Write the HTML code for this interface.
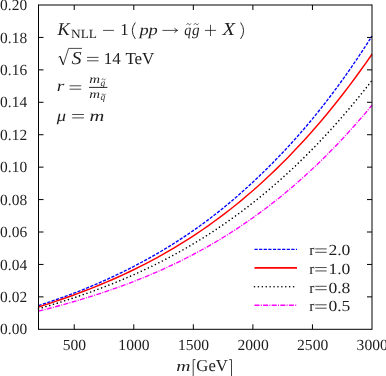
<!DOCTYPE html>
<html><head><meta charset="utf-8"><title>plot</title>
<style>
html,body{margin:0;padding:0;background:#fff;}
body{width:386px;height:376px;overflow:hidden;}
svg{display:block;}
text{font-family:"Liberation Serif",serif;fill:#1e1e1e;text-rendering:geometricPrecision;}
.i{font-style:italic;}
</style></head><body>
<svg width="386" height="376" viewBox="0 0 386 376">
<rect x="0" y="0" width="386" height="376" fill="#ffffff"/>
<path d="M38.50,305.60 L44.15,303.76 L49.81,301.86 L55.46,299.91 L61.11,297.91 L66.76,295.85 L72.42,293.73 L78.07,291.55 L83.72,289.31 L89.37,287.00 L95.03,284.63 L100.68,282.19 L106.33,279.68 L111.98,277.09 L117.64,274.44 L123.29,271.70 L128.94,268.89 L134.59,266.00 L140.25,263.02 L145.90,259.96 L151.55,256.81 L157.20,253.57 L162.86,250.24 L168.51,246.81 L174.16,243.29 L179.81,239.66 L185.47,235.93 L191.12,232.09 L196.77,228.14 L202.42,224.07 L208.08,219.88 L213.73,215.57 L219.38,211.13 L225.03,206.56 L230.69,201.85 L236.34,197.02 L241.99,192.05 L247.64,186.96 L253.30,181.73 L258.95,176.39 L264.60,170.92 L270.25,165.32 L275.91,159.59 L281.56,153.72 L287.21,147.71 L292.86,141.55 L298.52,135.22 L304.17,128.72 L309.82,122.05 L315.47,115.19 L321.13,108.15 L326.78,100.92 L332.43,93.50 L338.08,85.89 L343.74,78.08 L349.39,70.07 L355.04,61.86 L360.69,53.45 L366.35,44.83 L372.00,36.00" fill="none" stroke="#0000ff" stroke-width="1.35" stroke-dasharray="3.2,1.4"/>
<path d="M38.50,306.96 L44.15,305.16 L49.81,303.32 L55.46,301.43 L61.11,299.50 L66.76,297.52 L72.42,295.50 L78.07,293.42 L83.72,291.29 L89.37,289.10 L95.03,286.85 L100.68,284.54 L106.33,282.17 L111.98,279.73 L117.64,277.22 L123.29,274.65 L128.94,271.99 L134.59,269.27 L140.25,266.46 L145.90,263.57 L151.55,260.60 L157.20,257.55 L162.86,254.40 L168.51,251.17 L174.16,247.85 L179.81,244.42 L185.47,240.91 L191.12,237.29 L196.77,233.57 L202.42,229.74 L208.08,225.81 L213.73,221.76 L219.38,217.61 L225.03,213.34 L230.69,208.95 L236.34,204.45 L241.99,199.82 L247.64,195.07 L253.30,190.19 L258.95,185.19 L264.60,180.05 L270.25,174.78 L275.91,169.37 L281.56,163.83 L287.21,158.14 L292.86,152.31 L298.52,146.33 L304.17,140.21 L309.82,133.93 L315.47,127.51 L321.13,120.92 L326.78,114.18 L332.43,107.28 L338.08,100.22 L343.74,92.99 L349.39,85.59 L355.04,78.03 L360.69,70.29 L366.35,62.37 L372.00,54.28" fill="none" stroke="#ff0000" stroke-width="1.45"/>
<path d="M38.50,308.75 L44.15,307.10 L49.81,305.42 L55.46,303.70 L61.11,301.94 L66.76,300.13 L72.42,298.28 L78.07,296.38 L83.72,294.43 L89.37,292.43 L95.03,290.37 L100.68,288.26 L106.33,286.09 L111.98,283.86 L117.64,281.56 L123.29,279.21 L128.94,276.78 L134.59,274.29 L140.25,271.73 L145.90,269.09 L151.55,266.38 L157.20,263.60 L162.86,260.73 L168.51,257.78 L174.16,254.75 L179.81,251.64 L185.47,248.44 L191.12,245.15 L196.77,241.76 L202.42,238.29 L208.08,234.72 L213.73,231.05 L219.38,227.28 L225.03,223.41 L230.69,219.44 L236.34,215.36 L241.99,211.17 L247.64,206.87 L253.30,202.47 L258.95,197.94 L264.60,193.30 L270.25,188.55 L275.91,183.67 L281.56,178.67 L287.21,173.55 L292.86,168.30 L298.52,162.92 L304.17,157.41 L309.82,151.77 L315.47,145.99 L321.13,140.08 L326.78,134.03 L332.43,127.84 L338.08,121.50 L343.74,115.02 L349.39,108.39 L355.04,101.62 L360.69,94.69 L366.35,87.61 L372.00,80.37" fill="none" stroke="#000000" stroke-width="1.6" stroke-linecap="round" stroke-dasharray="0.01,3.9"/>
<path d="M38.50,311.21 L44.15,309.75 L49.81,308.27 L55.46,306.75 L61.11,305.20 L66.76,303.62 L72.42,302.00 L78.07,300.34 L83.72,298.64 L89.37,296.90 L95.03,295.11 L100.68,293.28 L106.33,291.39 L111.98,289.45 L117.64,287.46 L123.29,285.41 L128.94,283.30 L134.59,281.13 L140.25,278.90 L145.90,276.60 L151.55,274.23 L157.20,271.80 L162.86,269.29 L168.51,266.70 L174.16,264.04 L179.81,261.30 L185.47,258.48 L191.12,255.58 L196.77,252.59 L202.42,249.51 L208.08,246.34 L213.73,243.08 L219.38,239.72 L225.03,236.27 L230.69,232.72 L236.34,229.07 L241.99,225.31 L247.64,221.45 L253.30,217.48 L258.95,213.40 L264.60,209.20 L270.25,204.89 L275.91,200.47 L281.56,195.93 L287.21,191.26 L292.86,186.47 L298.52,181.56 L304.17,176.51 L309.82,171.34 L315.47,166.03 L321.13,160.59 L326.78,155.01 L332.43,149.30 L338.08,143.44 L343.74,137.44 L349.39,131.29 L355.04,124.99 L360.69,118.54 L366.35,111.94 L372.00,105.19" fill="none" stroke="#ff00ff" stroke-width="1.35" stroke-dasharray="5,1.3,1,1.3"/>
<g stroke="#000" stroke-width="1" fill="none">
<line x1="38.5" y1="4.5" x2="38.5" y2="329.8"/>
<line x1="372.0" y1="4.5" x2="372.0" y2="329.8"/>
<line x1="38.5" y1="5.0" x2="372.0" y2="5.0"/>
<line x1="38.5" y1="329.3" x2="372.0" y2="329.3"/>
<line x1="38.5" y1="296.87" x2="43.5" y2="296.87"/>
<line x1="372.0" y1="296.87" x2="367.0" y2="296.87"/>
<line x1="38.5" y1="264.44" x2="43.5" y2="264.44"/>
<line x1="372.0" y1="264.44" x2="367.0" y2="264.44"/>
<line x1="38.5" y1="232.01" x2="43.5" y2="232.01"/>
<line x1="372.0" y1="232.01" x2="367.0" y2="232.01"/>
<line x1="38.5" y1="199.58" x2="43.5" y2="199.58"/>
<line x1="372.0" y1="199.58" x2="367.0" y2="199.58"/>
<line x1="38.5" y1="167.15" x2="43.5" y2="167.15"/>
<line x1="372.0" y1="167.15" x2="367.0" y2="167.15"/>
<line x1="38.5" y1="134.72" x2="43.5" y2="134.72"/>
<line x1="372.0" y1="134.72" x2="367.0" y2="134.72"/>
<line x1="38.5" y1="102.29" x2="43.5" y2="102.29"/>
<line x1="372.0" y1="102.29" x2="367.0" y2="102.29"/>
<line x1="38.5" y1="69.86" x2="43.5" y2="69.86"/>
<line x1="372.0" y1="69.86" x2="367.0" y2="69.86"/>
<line x1="38.5" y1="37.43" x2="43.5" y2="37.43"/>
<line x1="372.0" y1="37.43" x2="367.0" y2="37.43"/>
<line x1="74.23" y1="329.3" x2="74.23" y2="324.3"/>
<line x1="74.23" y1="5.0" x2="74.23" y2="10.0"/>
<line x1="133.79" y1="329.3" x2="133.79" y2="324.3"/>
<line x1="133.79" y1="5.0" x2="133.79" y2="10.0"/>
<line x1="193.34" y1="329.3" x2="193.34" y2="324.3"/>
<line x1="193.34" y1="5.0" x2="193.34" y2="10.0"/>
<line x1="252.89" y1="329.3" x2="252.89" y2="324.3"/>
<line x1="252.89" y1="5.0" x2="252.89" y2="10.0"/>
<line x1="312.45" y1="329.3" x2="312.45" y2="324.3"/>
<line x1="312.45" y1="5.0" x2="312.45" y2="10.0"/>
</g>
<line x1="254.5" y1="249.3" x2="297" y2="249.3" fill="none" stroke="#0000ff" stroke-width="1.35" stroke-dasharray="3.2,1.4"/>
<line x1="254.5" y1="267.95" x2="297" y2="267.95" fill="none" stroke="#ff0000" stroke-width="1.7"/>
<line x1="254.5" y1="286.7" x2="297" y2="286.7" fill="none" stroke="#000000" stroke-width="1.6" stroke-linecap="round" stroke-dasharray="0.01,3.9"/>
<line x1="254.5" y1="305.2" x2="297" y2="305.2" fill="none" stroke="#ff00ff" stroke-width="1.35" stroke-dasharray="5,1.3,1,1.3"/>
<g style="filter:grayscale(1)">
<text x="27.1" y="334.40" font-size="15.4" text-anchor="end" textLength="27" lengthAdjust="spacingAndGlyphs">0.00</text>
<text x="27.1" y="301.97" font-size="15.4" text-anchor="end" textLength="27" lengthAdjust="spacingAndGlyphs">0.02</text>
<text x="27.1" y="269.54" font-size="15.4" text-anchor="end" textLength="27" lengthAdjust="spacingAndGlyphs">0.04</text>
<text x="27.1" y="237.11" font-size="15.4" text-anchor="end" textLength="27" lengthAdjust="spacingAndGlyphs">0.06</text>
<text x="27.1" y="204.68" font-size="15.4" text-anchor="end" textLength="27" lengthAdjust="spacingAndGlyphs">0.08</text>
<text x="27.1" y="172.25" font-size="15.4" text-anchor="end" textLength="27" lengthAdjust="spacingAndGlyphs">0.10</text>
<text x="27.1" y="139.82" font-size="15.4" text-anchor="end" textLength="27" lengthAdjust="spacingAndGlyphs">0.12</text>
<text x="27.1" y="107.39" font-size="15.4" text-anchor="end" textLength="27" lengthAdjust="spacingAndGlyphs">0.14</text>
<text x="27.1" y="74.96" font-size="15.4" text-anchor="end" textLength="27" lengthAdjust="spacingAndGlyphs">0.16</text>
<text x="27.1" y="42.53" font-size="15.4" text-anchor="end" textLength="27" lengthAdjust="spacingAndGlyphs">0.18</text>
<text x="27.1" y="10.10" font-size="15.4" text-anchor="end" textLength="27" lengthAdjust="spacingAndGlyphs">0.20</text>
<text x="74.43" y="350.3" font-size="15.4" text-anchor="middle" textLength="23.4" lengthAdjust="spacingAndGlyphs">500</text>
<text x="133.99" y="350.3" font-size="15.4" text-anchor="middle" textLength="31.2" lengthAdjust="spacingAndGlyphs">1000</text>
<text x="193.54" y="350.3" font-size="15.4" text-anchor="middle" textLength="31.2" lengthAdjust="spacingAndGlyphs">1500</text>
<text x="253.09" y="350.3" font-size="15.4" text-anchor="middle" textLength="31.2" lengthAdjust="spacingAndGlyphs">2000</text>
<text x="312.65" y="350.3" font-size="15.4" text-anchor="middle" textLength="31.2" lengthAdjust="spacingAndGlyphs">2500</text>
<text x="372.20" y="350.3" font-size="15.4" text-anchor="middle" textLength="31.2" lengthAdjust="spacingAndGlyphs">3000</text>
<text x="176.2" y="371.4" font-size="15.0" class="i" textLength="14.2" lengthAdjust="spacingAndGlyphs">m</text>
<path d="M195.5,359.6 L193.2,359.6 L193.2,376.5" fill="none" stroke="#111" stroke-width="0.8"/>
<path d="M229.2,359.6 L231.5,359.6 L231.5,376.5" fill="none" stroke="#111" stroke-width="0.8"/>
<text x="196.3" y="371.4" font-size="16.8" textLength="31.6" lengthAdjust="spacingAndGlyphs">GeV</text>
<text x="309.3" y="255.20" font-size="15.4">r</text>
<line x1="315.3" y1="248.90" x2="326.7" y2="248.90" stroke="#111" stroke-width="0.75"/>
<line x1="315.3" y1="252.30" x2="326.7" y2="252.30" stroke="#111" stroke-width="0.75"/>
<text x="328.4" y="255.20" font-size="15.4" textLength="22" lengthAdjust="spacingAndGlyphs">2.0</text>
<text x="309.3" y="273.85" font-size="15.4">r</text>
<line x1="315.3" y1="267.55" x2="326.7" y2="267.55" stroke="#111" stroke-width="0.75"/>
<line x1="315.3" y1="270.95" x2="326.7" y2="270.95" stroke="#111" stroke-width="0.75"/>
<text x="328.4" y="273.85" font-size="15.4" textLength="22" lengthAdjust="spacingAndGlyphs">1.0</text>
<text x="309.3" y="292.60" font-size="15.4">r</text>
<line x1="315.3" y1="286.30" x2="326.7" y2="286.30" stroke="#111" stroke-width="0.75"/>
<line x1="315.3" y1="289.70" x2="326.7" y2="289.70" stroke="#111" stroke-width="0.75"/>
<text x="328.4" y="292.60" font-size="15.4" textLength="22" lengthAdjust="spacingAndGlyphs">0.8</text>
<text x="309.3" y="311.10" font-size="15.4">r</text>
<line x1="315.3" y1="304.80" x2="326.7" y2="304.80" stroke="#111" stroke-width="0.75"/>
<line x1="315.3" y1="308.20" x2="326.7" y2="308.20" stroke="#111" stroke-width="0.75"/>
<text x="328.4" y="311.10" font-size="15.4" textLength="22" lengthAdjust="spacingAndGlyphs">0.5</text>
<text x="57.6" y="34.8" font-size="17.8" class="i" textLength="12.2" lengthAdjust="spacingAndGlyphs">K</text>
<text x="71.0" y="37.7" font-size="12.5" textLength="26.0" lengthAdjust="spacingAndGlyphs">NLL</text>
<line x1="103.0" y1="30.4" x2="113.9" y2="30.4" stroke="#111" stroke-width="0.75"/>
<text x="120.3" y="34.8" font-size="16.8">1</text>
<path d="M135.3,22.5 Q129.3,30.7 135.3,38.9" fill="none" stroke="#111" stroke-width="0.9"/>
<text x="139.4" y="34.6" font-size="15.6" class="i" textLength="18.4" lengthAdjust="spacingAndGlyphs">pp</text>
<line x1="162.4" y1="30.4" x2="177.3" y2="30.4" stroke="#111" stroke-width="0.75"/>
<path d="M174.6,27.9 Q175.4,29.9 177.7,30.4 Q175.4,30.9 174.6,32.9" fill="none" stroke="#111" stroke-width="0.75"/>
<text x="184.2" y="34.6" font-size="15.6" class="i" textLength="7.0" lengthAdjust="spacingAndGlyphs">q</text>
<text x="191.9" y="34.6" font-size="15.6" class="i" textLength="7.6" lengthAdjust="spacingAndGlyphs">g</text>
<path d="M186.60,24.70 C187.46,23.10 188.10,23.40 188.75,24.10 S190.04,25.10 190.90,23.50" fill="none" stroke="#111" stroke-width="0.7"/>
<path d="M193.90,24.70 C194.84,23.10 195.55,23.40 196.25,24.10 S197.66,25.10 198.60,23.50" fill="none" stroke="#111" stroke-width="0.7"/>
<line x1="204.9" y1="30.4" x2="216.1" y2="30.4" stroke="#111" stroke-width="0.75"/>
<line x1="210.5" y1="24.8" x2="210.5" y2="36.0" stroke="#111" stroke-width="0.75"/>
<text x="222.4" y="34.8" font-size="18.3" class="i" textLength="12.5" lengthAdjust="spacingAndGlyphs">X</text>
<path d="M240.6,22.5 Q246.6,30.7 240.6,38.9" fill="none" stroke="#111" stroke-width="0.9"/>
<path d="M58.4,57.3 L60.0,56.2" fill="none" stroke="#111" stroke-width="0.7"/>
<path d="M60.0,56.2 L63.2,64.6" fill="none" stroke="#111" stroke-width="1.2"/>
<path d="M63.2,65.0 L68.6,48.4 L82.0,48.4" fill="none" stroke="#111" stroke-width="0.75"/>
<text x="71.5" y="63.9" font-size="18.3" class="i" textLength="10.0" lengthAdjust="spacingAndGlyphs">S</text>
<line x1="87.0" y1="57.4" x2="98.5" y2="57.4" stroke="#111" stroke-width="0.75"/>
<line x1="87.0" y1="60.8" x2="98.5" y2="60.8" stroke="#111" stroke-width="0.75"/>
<text x="103.8" y="63.9" font-size="16.8" textLength="17.0" lengthAdjust="spacingAndGlyphs">14</text>
<text x="125.4" y="63.9" font-size="16.8" textLength="29.0" lengthAdjust="spacingAndGlyphs">TeV</text>
<text x="56.8" y="91.2" font-size="15.6" class="i" textLength="7.6" lengthAdjust="spacingAndGlyphs">r</text>
<line x1="69.6" y1="85.8" x2="81.2" y2="85.8" stroke="#111" stroke-width="0.75"/>
<line x1="69.6" y1="89.2" x2="81.2" y2="89.2" stroke="#111" stroke-width="0.75"/>
<line x1="89.0" y1="87.4" x2="107.4" y2="87.4" stroke="#111" stroke-width="0.9"/>
<text x="89.3" y="83.1" font-size="11.8" class="i" textLength="10.8" lengthAdjust="spacingAndGlyphs">m</text>
<text x="100.6" y="85.5" font-size="9.4" class="i">g</text>
<path d="M101.80,79.90 C102.56,78.30 103.13,78.60 103.70,79.30 S104.84,80.30 105.60,78.70" fill="none" stroke="#111" stroke-width="0.55"/>
<text x="89.3" y="97.6" font-size="11.8" class="i" textLength="10.8" lengthAdjust="spacingAndGlyphs">m</text>
<text x="100.6" y="99.9" font-size="9.4" class="i">q</text>
<path d="M101.80,95.00 C102.56,93.40 103.13,93.70 103.70,94.40 S104.84,95.40 105.60,93.80" fill="none" stroke="#111" stroke-width="0.55"/>
<text x="56.8" y="120.7" font-size="15.6" class="i" textLength="9.3" lengthAdjust="spacingAndGlyphs">μ</text>
<line x1="72.2" y1="114.5" x2="83.9" y2="114.5" stroke="#111" stroke-width="0.75"/>
<line x1="72.2" y1="117.9" x2="83.9" y2="117.9" stroke="#111" stroke-width="0.75"/>
<text x="89.6" y="120.7" font-size="15.6" class="i" textLength="14.8" lengthAdjust="spacingAndGlyphs">m</text>
</g>
</svg></body></html>
